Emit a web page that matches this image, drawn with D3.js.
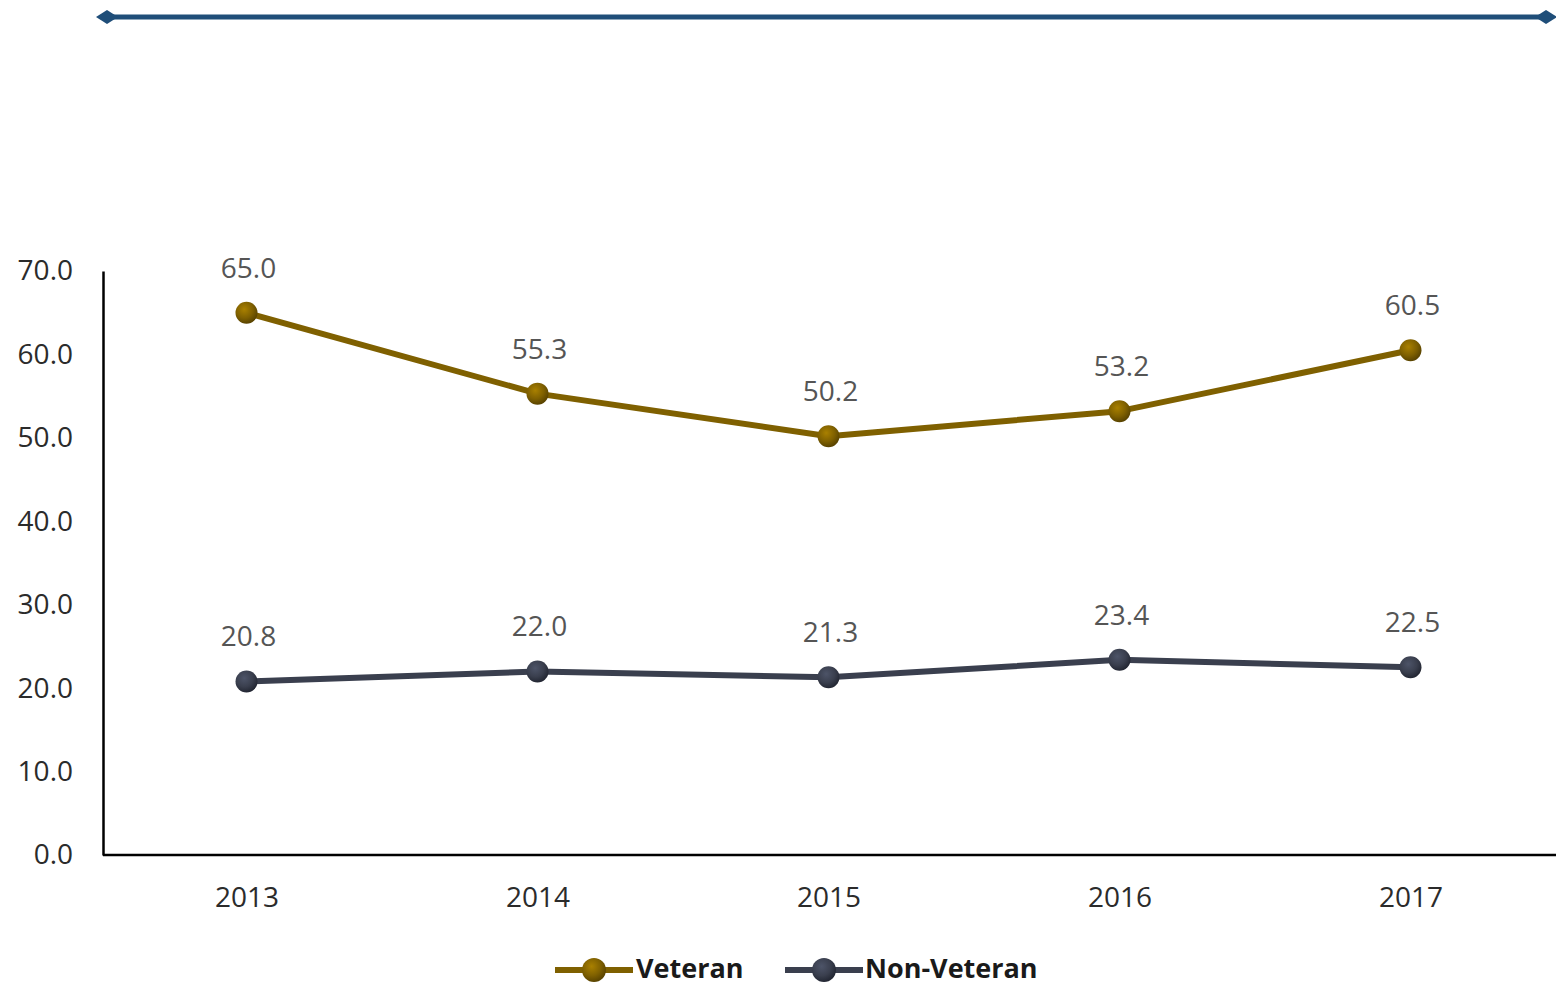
<!DOCTYPE html>
<html>
<head>
<meta charset="utf-8">
<script src="https://cdn.jsdelivr.net/npm/d3@7"></script>
<style>
  body { margin: 0; background: #fff; }
  svg { display: block; font-family: "Open Sans", "Noto Sans", sans-serif; }
</style>
</head>
<body>
<svg id="chart"></svg>
<script>
// data
const years = ["2013", "2014", "2015", "2016", "2017"];
const veteran = [65.0, 55.3, 50.2, 53.2, 60.5];
const nonVeteran = [20.8, 22.0, 21.3, 23.4, 22.5];
const yTicks = [0, 10, 20, 30, 40, 50, 60, 70];

const width = 1556;
const height = 986;

const series = [
    { name: "Veteran", values: veteran, color: "#7f6000", dark: "#5a4400" },
    { name: "Non-Veteran", values: nonVeteran, color: "#3a3f4e", dark: "#232733" }
];

const svg = d3.select("#chart")
    .attr("width", width)
    .attr("height", height);

const defs = svg.append("defs");

// top rule with diamond ends
svg.append("line")
    .attr("x1", 107).attr("x2", 1546)
    .attr("y1", 17).attr("y2", 17)
    .attr("stroke", "#1f4e79")
    .attr("stroke-width", 5);
[107, 1546].forEach(cx => {
    svg.append("path")
        .attr("d", `M${cx - 11},17L${cx},10L${cx + 11},17L${cx},24Z`)
        .attr("fill", "#1f4e79");
});

// radial gradients for the ball markers
series.forEach((s, i) => {
    const g = defs.append("radialGradient")
        .attr("id", "ball" + i)
        .attr("cx", "40%").attr("cy", "35%").attr("r", "65%");
    g.append("stop").attr("offset", "0%").attr("stop-color", d3.color(s.color).brighter(0.8));
    g.append("stop").attr("offset", "60%").attr("stop-color", s.color);
    g.append("stop").attr("offset", "100%").attr("stop-color", s.dark);
});

const x = d3.scalePoint()
    .domain(years)
    .range([101, 1556])
    .padding(0.5);

const y = d3.scaleLinear()
    .domain([0, 70])
    .range([855, 271]);

// y axis
const yAxis = svg.append("g")
    .attr("transform", "translate(103,0)")
    .call(d3.axisLeft(y).tickValues(yTicks).tickFormat(d3.format(".1f")).tickSize(0).tickPadding(30));
yAxis.select(".domain").attr("stroke", "#000").attr("stroke-width", 2.5);
yAxis.selectAll("text")
    .attr("font-size", 28)
    .attr("fill", "#2b2b2b")
    .attr("font-family", "'Open Sans', sans-serif");

// x axis
const xAxis = svg.append("g")
    .attr("transform", "translate(0,855)")
    .call(d3.axisBottom(x).tickSize(0).tickPadding(32));
xAxis.select(".domain")
    .attr("d", "M103,0H1556")
    .attr("stroke", "#000").attr("stroke-width", 2.5);
xAxis.selectAll("text")
    .attr("font-size", 28)
    .attr("fill", "#2b2b2b")
    .attr("font-family", "'Open Sans', sans-serif");

// lines
const line = d3.line()
    .x((d, i) => x(years[i]))
    .y(d => y(d));

series.forEach((s, i) => {
    const g = svg.append("g");
    g.append("path")
        .datum(s.values)
        .attr("d", line)
        .attr("fill", "none")
        .attr("stroke", s.color)
        .attr("stroke-width", 6)
        .attr("stroke-linejoin", "round");

    g.selectAll("circle")
        .data(s.values)
        .enter()
        .append("circle")
        .attr("cx", (d, j) => x(years[j]))
        .attr("cy", d => y(d))
        .attr("r", 11)
        .attr("fill", "url(#ball" + i + ")");

    g.selectAll("text")
        .data(s.values)
        .enter()
        .append("text")
        .attr("x", (d, j) => x(years[j]) + 2)
        .attr("y", d => y(d) - 35)
        .attr("text-anchor", "middle")
        .attr("font-size", 28)
        .attr("fill", "#555")
        .text(d => d.toFixed(1));
});

// legend
const legendItems = [
    { s: series[0], x: 555, tx: 636 },
    { s: series[1], x: 785, tx: 865 }
];
legendItems.forEach((item, i) => {
    const lg = svg.append("g").attr("transform", `translate(${item.x},970)`);
    lg.append("line")
        .attr("x1", 0).attr("x2", 78)
        .attr("stroke", item.s.color)
        .attr("stroke-width", 6);
    lg.append("circle")
        .attr("cx", 39).attr("r", 12)
        .attr("fill", "url(#ball" + series.indexOf(item.s) + ")");
    svg.append("text")
        .attr("x", item.tx)
        .attr("y", 978)
        .attr("font-size", 27)
        .attr("font-weight", "bold")
        .attr("fill", "#1a1a1a")
        .text(item.s.name);
});
</script>
</body>
</html>
